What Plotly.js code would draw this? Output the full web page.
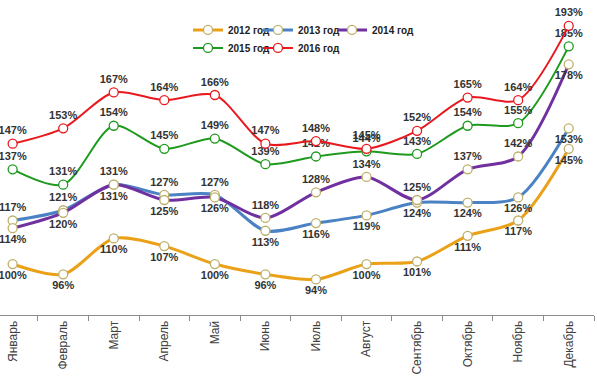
<!DOCTYPE html>
<html>
<head>
<meta charset="utf-8">
<script src="https://cdn.plot.ly/plotly-3.0.1.min.js"></script>
<style>html,body{margin:0;padding:0;background:#fff}#chart{width:597px;height:376px}</style>
</head>
<body>
<div id="chart"></div>
<script>
const months = ["Январь","Февраль","Март","Апрель","Май","Июнь","Июль","Август","Сентябрь","Октябрь","Ноябрь","Декабрь"];
const seriesNames = ["2012 год","2013 год","2014 год","2015 год","2016 год"];
const v2012 = [100,96,110,107,100,96,94,100,101,111,117,145];
const v2013 = [117,121,131,127,127,113,116,119,124,124,126,153];
const v2014 = [114,120,131,125,126,118,128,134,125,137,142,178];
const v2015 = [137,131,154,145,149,139,142,144,143,154,155,185];
const v2016 = [147,153,167,164,166,147,148,145,152,165,164,193];
const pos2012 = ["b","b","b","b","b","b","b","b","b","b","b","b"];
const pos2013 = ["t","t","t","t","t","b","b","b","b","b","b","b"];
const pos2014 = ["b","b","b","b","b","t","t","t","t","t","t","b"];
const pos2015 = ["t","t","t","t","t","t","t","t","t","t","t","t"];
const pos2016 = ["t","t","t","t","t","t","t","t","t","t","t","t"];

const values = [v2012,v2013,v2014,v2015,v2016];
const positions = [pos2012,pos2013,pos2014,pos2015,pos2016];
const lineColors = ["#EBA117","#4A82C3","#7030A0","#1E9A1E","#E8191E"];
const markerLines = ["#BDB06A","#BDB06A","#BDB06A","#1E9A1E","#E8191E"];
const widths = [3,3,3,2,2];
const legendIds = ["legend","legend2","legend3","legend4","legend5"];
const legendX = [0.3165,0.4343,0.5589,0.3165,0.4343];
const legendY = [0.905,0.905,0.905,0.848,0.848];

const traces = values.map((v,k)=>({
  type:"scatter",
  mode:"lines+markers+text",
  name:seriesNames[k],
  x:months,
  y:v,
  text:v.map(a=>a+"%"),
  textposition:positions[k].map(p=>p==="t"?"top center":"bottom center"),
  textfont:{family:"Liberation Sans, Arial, sans-serif",size:11,color:"#333333",weight:"bold"},
  line:{color:lineColors[k],width:widths[k],shape:"spline",smoothing:0.8},
  marker:{size:9,color:"#ffffff",line:{color:markerLines[k],width:1.3}},
  cliponaxis:false,
  legend:legendIds[k]
}));

const legendFont = {family:"Liberation Sans, Arial, sans-serif",size:10,color:"#222",weight:"bold"};
const layout = {
  width:597,height:376,
  margin:{l:0,r:3,t:0,b:61},
  paper_bgcolor:"#fff",plot_bgcolor:"#fff",
  showlegend:true,
  xaxis:{type:"category",range:[-0.25,11.5],showgrid:false,zeroline:false,
    showline:true,linecolor:"#8c8c8c",linewidth:1,
    ticks:"outside",tickson:"boundaries",ticklen:5,tickcolor:"#8c8c8c",
    tickangle:-90,tickfont:{family:"Liberation Sans, Arial, sans-serif",size:12,color:"#404040"}},
  yaxis:{range:[80.1,203.1],visible:false,showgrid:false,zeroline:false}
};
legendIds.forEach((id,k)=>{
  layout[id] = {orientation:"h",x:legendX[k],xanchor:"left",y:legendY[k],yanchor:"middle",
    font:legendFont,itemwidth:30,bgcolor:"rgba(0,0,0,0)"};
});
Plotly.newPlot("chart",traces,layout,{displayModeBar:false,staticPlot:true});
</script>
</body>
</html>
